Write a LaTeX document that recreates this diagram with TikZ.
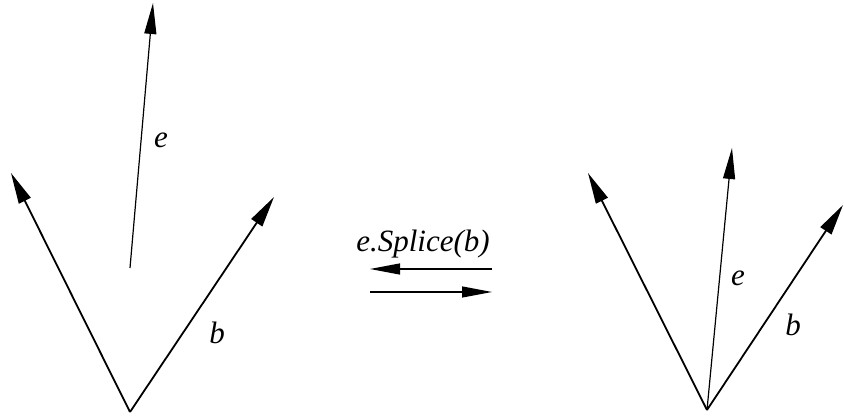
\documentclass[tikz,border=0pt]{standalone}
\usepackage{fontspec}
\setmainfont{Liberation Serif}
\usetikzlibrary{arrows.meta}
\tikzset{
  vec/.style={line width=1.8pt,-{Triangle[length=31pt,width=13pt]}},
  thinvec/.style={line width=1.2pt,-{Triangle[length=31pt,width=12pt]}},
  swap/.style={line width=1.2pt,-{Triangle[length=30pt,width=11pt]}},
  lbl/.style={font=\fontsize{31}{37}\selectfont\itshape}
}
\begin{document}
\begin{tikzpicture}[x=1pt,y=1pt]
    \useasboundingbox (0,0) rectangle (844,417);
    % before the splice
    \coordinate (v1) at (130,5);
    \coordinate (a1) at (11,244);
    \coordinate (b1) at (274,220);
    \coordinate (e1s) at (130,149);
    \coordinate (e1) at (153,414);
    \draw[vec] (v1)--(a1);
    \draw[vec] (v1)--(b1);
    \draw[thinvec] (e1s)--(e1);
    \node[lbl] (le1) at (161,277) {e};
    \node[lbl] (lb1) at (217,84) {b};

    % after the splice
    \coordinate (v2) at (707,7);
    \coordinate (a2) at (588,244);
    \coordinate (e2) at (732,269);
    \coordinate (b2) at (843,212);
    \draw[vec] (v2)--(a2);
    \draw[thinvec] (v2)--(e2);
    \draw[vec] (v2)--(b2);
    \node[lbl] (le2) at (738,139) {e};
    \node[lbl] (lb2) at (793,92) {b};

    % the operation
    \node[lbl] (op) at (423,173) {e.Splice(b)};
    \coordinate (ur) at (492,148);
    \coordinate (ul) at (370,148);
    \coordinate (dl) at (370,125);
    \coordinate (dr) at (492,125);
    \draw[swap] (ur)--(ul);
    \draw[swap] (dl)--(dr);
\end{tikzpicture}
\end{document}
